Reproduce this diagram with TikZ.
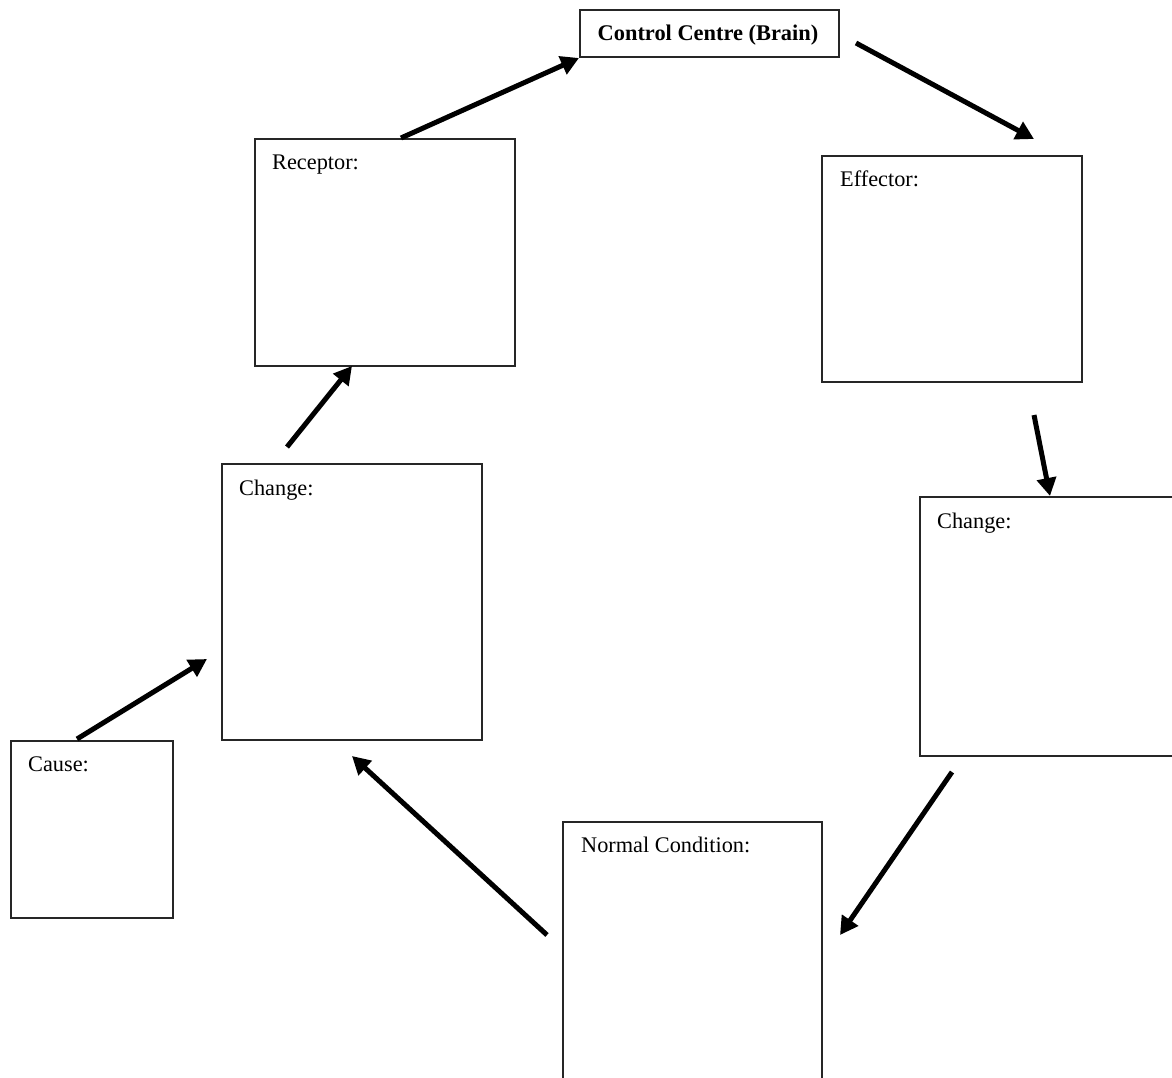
\documentclass[tikz,border=0pt]{standalone}
\usepackage{fontspec}
\setmainfont{Liberation Serif}
\usetikzlibrary{arrows.meta}
\begin{document}
\begin{tikzpicture}[x=1pt,y=-1pt,
  box/.style={draw=black!85,line width=1.1pt,anchor=north west,inner sep=0pt,outer sep=0pt},
  lbl/.style={anchor=base west,inner sep=0pt,font=\fontsize{22.3}{26}\selectfont},
  flow/.style={line width=5pt,-{Triangle[length=18pt,width=19pt]}}]
\clip (0,0) rectangle (1172,1078);
\fill[white] (0,0) rectangle (1172,1078);
% boxes
\node[box,minimum width=259pt,minimum height=47pt] (ctrl) at (580,10) {};
\node[font=\fontsize{22.4}{26}\selectfont\bfseries,inner sep=0pt] (ctrltxt) at (708,35) {Control Centre (Brain)};
\node[box,minimum width=260pt,minimum height=227pt] (rec) at (255,139) {};
\node[box,minimum width=260pt,minimum height=226pt] (eff) at (822,156) {};
\node[box,minimum width=260pt,minimum height=276pt] (chl) at (222,464) {};
\node[box,minimum width=270pt,minimum height=259pt] (chr) at (920,497) {};
\node[box,minimum width=162pt,minimum height=177pt] (cause) at (11,741) {};
\node[box,minimum width=259pt,minimum height=280pt] (norm) at (563,822) {};
% labels
\node[lbl] (reclbl) at (272,170) {Receptor:};
\node[lbl] (efflbl) at (840,186) {Effector:};
\node[lbl] (chllbl) at (239,495) {Change:};
\node[lbl] (chrlbl) at (937,528) {Change:};
\node[lbl] (causelbl) at (28,771) {Cause:};
\node[lbl] (normlbl) at (581,852) {Normal Condition:};
% arrow end points
\coordinate (a1s) at (77,739);  \coordinate (a1e) at (207,659);
\coordinate (a2s) at (287,447); \coordinate (a2e) at (352,366);
\coordinate (a3s) at (401,138); \coordinate (a3e) at (579,58);
\coordinate (a4s) at (856,43);  \coordinate (a4e) at (1034,139);
\coordinate (a5s) at (1034,415); \coordinate (a5e) at (1050,496);
\coordinate (a6s) at (952,772); \coordinate (a6e) at (840,935);
\coordinate (a7s) at (547,935); \coordinate (a7e) at (352,756);
\draw[flow] (a1s) -- (a1e);
\draw[flow] (a2s) -- (a2e);
\draw[flow] (a3s) -- (a3e);
\draw[flow] (a4s) -- (a4e);
\draw[flow] (a5s) -- (a5e);
\draw[flow] (a6s) -- (a6e);
\draw[flow] (a7s) -- (a7e);
\end{tikzpicture}
\end{document}
